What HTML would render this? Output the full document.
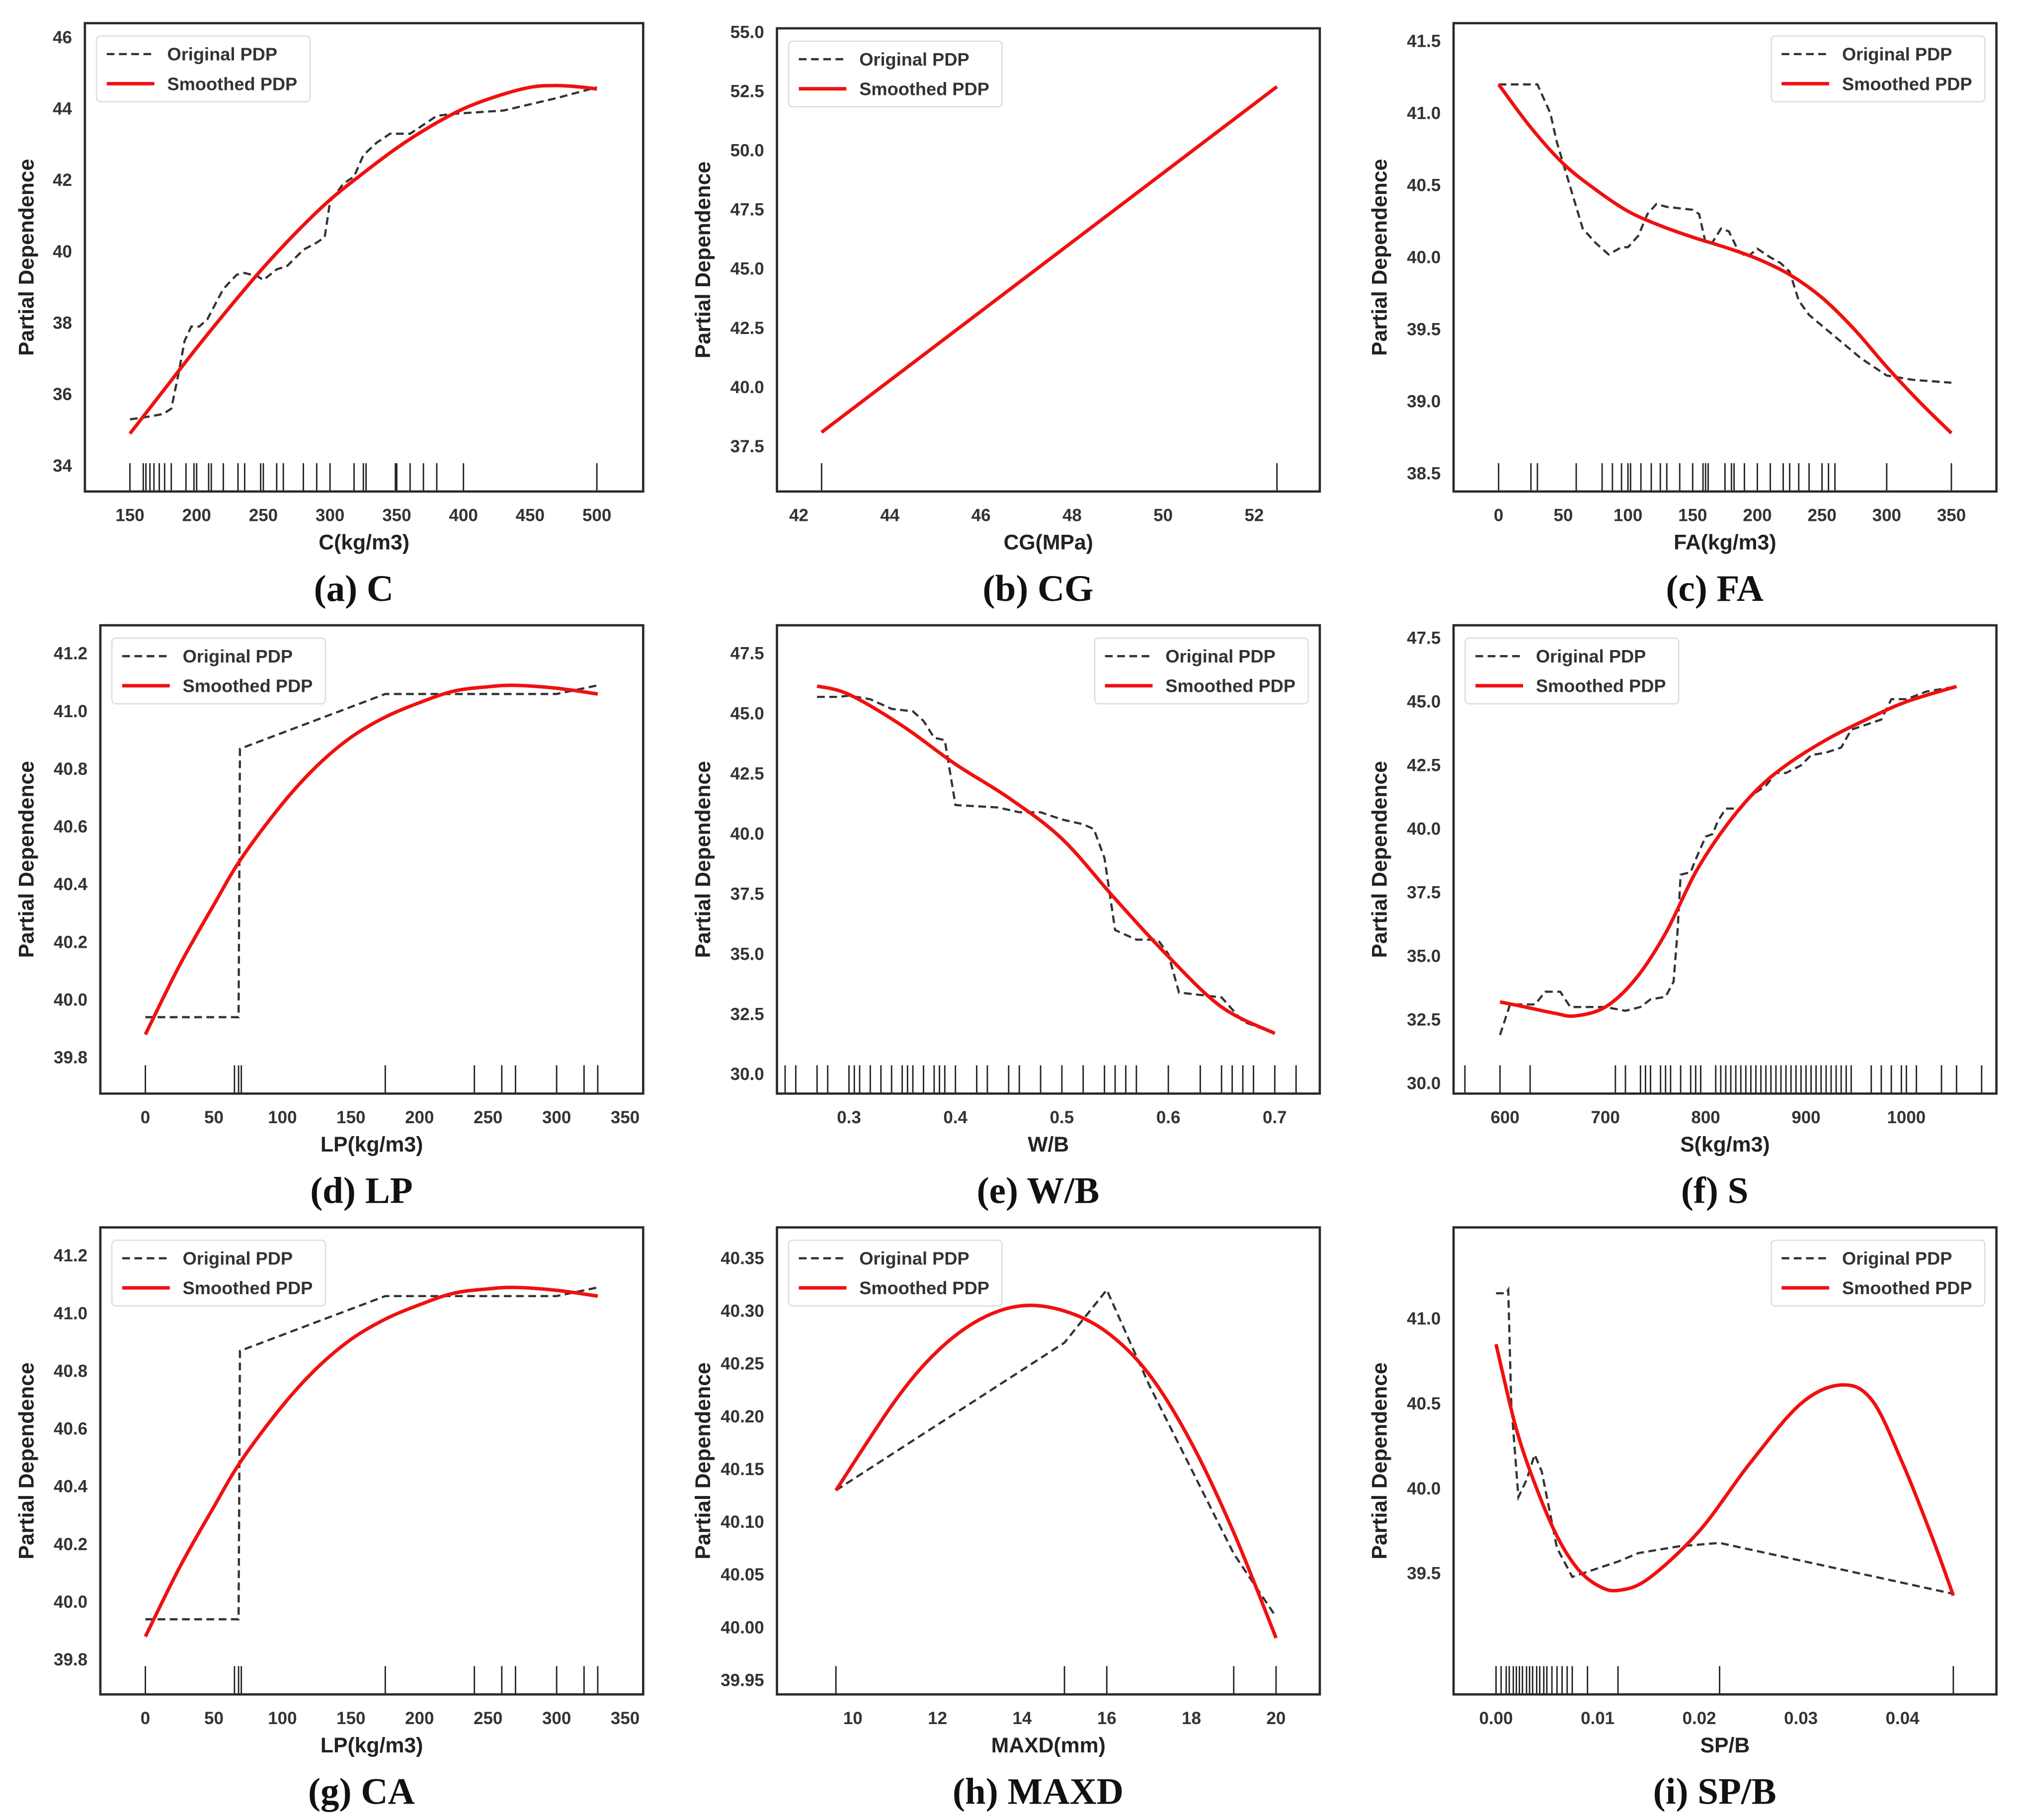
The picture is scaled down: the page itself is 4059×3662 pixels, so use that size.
<!DOCTYPE html>
<html><head><meta charset="utf-8"><style>
html,body{margin:0;padding:0;background:#fff}
svg{display:block}
.tk{font-family:"Liberation Sans",sans-serif;font-size:13.5px;font-weight:bold;fill:#333}
.al{font-family:"Liberation Sans",sans-serif;font-size:16.5px;font-weight:bold;fill:#222}
.cap{font-family:"Liberation Serif",serif;font-size:29px;font-weight:bold;fill:#111}
.lg{font-family:"Liberation Sans",sans-serif;font-size:14px;font-weight:bold;fill:#333}
</style></head><body>
<svg id="fig" xmlns="http://www.w3.org/2000/svg" width="4059" height="3662" viewBox="0 0 1568 1414.6"></svg>
<script>
// ---- data ----
const aOrigX=[150,160,175,181,186,191,196,202,208,215,220,230,236,246,250,260,268,280,290,296,300,310,318,325,335,345,360,380,390,430,470,500];
const aOrigY=[35.3,35.35,35.45,35.6,36.5,37.5,37.9,37.9,38.1,38.6,38.95,39.35,39.4,39.3,39.2,39.5,39.6,40.05,40.25,40.4,41.4,41.9,42.1,42.7,43.05,43.3,43.3,43.8,43.85,43.95,44.3,44.6];
const aSmX=[150,175,200,225,250,275,300,325,350,375,400,425,450,470,490,500];
const aSmY=[34.9,36.1,37.3,38.45,39.55,40.55,41.45,42.2,42.9,43.5,44.0,44.35,44.6,44.65,44.6,44.55];
const aRug=[150,160,162,165,168,172,176,181,192,198,200,209,211,220,231,236,248,250,260,265,280,290,300,318,325,327,349,350,360,370,380,400,500];

const bOrigX=[42.5,52.5];const bOrigY=[38.1,52.7];
const bSmX=[42.5,52.5];const bSmY=[38.1,52.7];
const bRug=[42.5,52.5];

const cOrigX=[0,30,40,45,55,65,75,85,95,100,108,115,122,130,140,150,155,160,165,172,178,185,192,200,210,218,225,232,240,260,280,300,320,350];
const cOrigY=[41.2,41.2,41.0,40.8,40.5,40.2,40.1,40.02,40.07,40.07,40.15,40.3,40.37,40.35,40.34,40.33,40.3,40.1,40.1,40.2,40.18,40.05,40.0,40.06,40.0,39.96,39.9,39.7,39.6,39.45,39.3,39.18,39.15,39.13];
const cSmX=[0,25,50,75,100,125,150,175,200,225,250,275,300,325,350];
const cSmY=[41.2,40.9,40.65,40.47,40.32,40.22,40.14,40.07,39.99,39.88,39.72,39.5,39.24,39.0,38.78];
const cRug=[0,25,30,60,80,88,95,100,102,110,118,125,130,140,150,158,160,162,175,180,182,190,200,210,220,225,232,240,250,255,260,300,350];

const dOrigX=[0,68,68.5,69,175,300,330];
const dOrigY=[39.94,39.94,40.4,40.87,41.06,41.06,41.09];
const dSmX=[0,25,50,70,100,125,150,175,200,225,250,270,300,330];
const dSmY=[39.88,40.12,40.33,40.49,40.68,40.81,40.91,40.98,41.03,41.07,41.085,41.09,41.08,41.06];
const dRug=[0,65,68,70,175,240,260,270,300,320,330];

const eOrigX=[0.27,0.29,0.3,0.32,0.34,0.36,0.37,0.38,0.39,0.4,0.42,0.44,0.46,0.48,0.5,0.52,0.53,0.54,0.55,0.57,0.59,0.6,0.61,0.63,0.65,0.67,0.7];
const eOrigY=[45.7,45.7,45.75,45.6,45.2,45.1,44.7,44.0,43.9,41.2,41.15,41.1,40.9,40.9,40.6,40.4,40.2,39.0,36.0,35.6,35.6,35.0,33.4,33.3,33.2,32.2,31.7];
const eSmX=[0.27,0.3,0.35,0.4,0.45,0.5,0.55,0.6,0.65,0.7];
const eSmY=[46.15,45.8,44.5,42.9,41.5,39.8,37.3,34.9,32.8,31.7];
const eRug=[0.24,0.25,0.27,0.28,0.3,0.305,0.31,0.32,0.33,0.34,0.35,0.355,0.36,0.37,0.38,0.385,0.39,0.4,0.42,0.43,0.45,0.46,0.48,0.5,0.52,0.54,0.55,0.56,0.57,0.6,0.63,0.65,0.66,0.67,0.68,0.7,0.72];

const fOrigX=[595,605,630,640,655,665,700,720,735,745,760,768,772,775,785,790,800,807,812,820,835,845,860,870,880,895,905,920,935,945,960,975,985,1000,1020,1050];
const fOrigY=[31.9,33.1,33.1,33.6,33.6,33.0,33.0,32.85,33.0,33.3,33.4,34.0,36.0,38.2,38.3,38.8,39.7,39.8,40.3,40.8,40.8,41.3,41.7,42.2,42.2,42.5,42.9,43.0,43.2,43.9,44.1,44.3,45.1,45.1,45.4,45.6];
const fSmX=[595,620,650,670,700,730,760,790,820,850,880,920,960,1000,1050];
const fSmY=[33.2,33.0,32.75,32.65,33.0,34.1,35.9,38.3,40.1,41.5,42.5,43.5,44.3,45.0,45.6];
const fRug=[560,595,625,710,720,735,740,745,755,760,765,775,785,790,795,810,815,820,825,830,835,840,845,850,855,860,865,870,875,880,885,890,895,900,905,910,915,920,925,930,935,940,945,965,975,985,995,1000,1010,1035,1050,1075];

const hOrigX=[9.6,15,16,17,19,20];
const hOrigY=[40.13,40.27,40.32,40.23,40.07,40.01];
const hSmX=[9.6,11,12,13,14,15,16,17,18,19,20];
const hSmY=[40.13,40.215,40.262,40.292,40.305,40.3,40.28,40.24,40.175,40.09,39.99];
const hRug=[9.6,15,16,19,20];

const iOrigX=[0,0.001,0.0012,0.0015,0.0022,0.003,0.0038,0.0045,0.006,0.0075,0.01,0.012,0.014,0.018,0.022,0.045];
const iOrigY=[41.15,41.15,41.17,40.5,39.95,40.05,40.2,40.1,39.65,39.48,39.53,39.57,39.62,39.66,39.68,39.38];
const iSmX=[0,0.002,0.004,0.006,0.008,0.01,0.012,0.015,0.02,0.025,0.03,0.034,0.037,0.04,0.043,0.045];
const iSmY=[40.85,40.35,40.0,39.72,39.53,39.43,39.4,39.47,39.75,40.15,40.5,40.61,40.52,40.15,39.7,39.37];
const iRug=[0,0.0005,0.001,0.0013,0.0017,0.002,0.0023,0.0026,0.003,0.0033,0.0036,0.004,0.0043,0.0047,0.005,0.0055,0.006,0.0065,0.007,0.0075,0.009,0.012,0.022,0.045];

const aXT=[150,200,250,300,350,400,450,500], aYT=[34,36,38,40,42,44,46];
const bXT=[42,44,46,48,50,52], bYT=[37.5,40.0,42.5,45.0,47.5,50.0,52.5,55.0];
const cXT=[0,50,100,150,200,250,300,350], cYT=[38.5,39.0,39.5,40.0,40.5,41.0,41.5];
const dXT=[0,50,100,150,200,250,300,350], dYT=[39.8,40.0,40.2,40.4,40.6,40.8,41.0,41.2];
const eXT=[0.3,0.4,0.5,0.6,0.7], eYT=[30.0,32.5,35.0,37.5,40.0,42.5,45.0,47.5];
const fXT=[600,700,800,900,1000], fYT=[30.0,32.5,35.0,37.5,40.0,42.5,45.0,47.5];
const hXT=[10,12,14,16,18,20], hYT=[39.95,40.00,40.05,40.10,40.15,40.20,40.25,40.30,40.35];
const iXT=[0,0.01,0.02,0.03,0.04], iYT=[39.5,40.0,40.5,41.0];

// ---- layout ----
const NS="http://www.w3.org/2000/svg";
const fig=document.getElementById('fig');
function mk(tag,attrs,parent){const e=document.createElementNS(NS,tag);for(const k in attrs)e.setAttribute(k,attrs[k]);(parent||fig).appendChild(e);return e;}
function lin(d0,d1,p0,p1){return v=>p0+(v-d0)*(p1-p0)/(d1-d0);}
function smoothPath(pts){
  if(pts.length<3) return 'M'+pts.map(p=>p[0].toFixed(2)+','+p[1].toFixed(2)).join(' L');
  let d='M'+pts[0][0].toFixed(2)+','+pts[0][1].toFixed(2);
  for(let i=0;i<pts.length-1;i++){
    const p0=pts[Math.max(0,i-1)],p1=pts[i],p2=pts[i+1],p3=pts[Math.min(pts.length-1,i+2)];
    const c1x=p1[0]+(p2[0]-p0[0])/6,c1y=p1[1]+(p2[1]-p0[1])/6;
    const c2x=p2[0]-(p3[0]-p1[0])/6,c2y=p2[1]-(p3[1]-p1[1])/6;
    d+=' C'+c1x.toFixed(2)+','+c1y.toFixed(2)+' '+c2x.toFixed(2)+','+c2y.toFixed(2)+' '+p2[0].toFixed(2)+','+p2[1].toFixed(2);
  }
  return d;
}

const panels=[
 {id:'a',box:[66,18,500,382],sx:lin(150,500,101,464),sy:lin(34,46,362,29),xt:aXT,yt:aYT,xd:0,yd:0,ox:aOrigX,oy:aOrigY,smx:aSmX,smy:aSmY,rug:aRug,xl:'C(kg/m3)',cap:'(a) C',leg:'left',yo:40},
 {id:'b',box:[604,22,1026,382],sx:lin(42,52,621,975),sy:lin(37.5,55,347,25),xt:bXT,yt:bYT,xd:0,yd:1,ox:bOrigX,oy:bOrigY,smx:bSmX,smy:bSmY,rug:bRug,xl:'CG(MPa)',cap:'(b) CG',leg:'left',yo:52},
 {id:'c',box:[1130,18,1552,382],sx:lin(0,350,1165,1517),sy:lin(38.5,41.5,368,32),xt:cXT,yt:cYT,xd:0,yd:1,ox:cOrigX,oy:cOrigY,smx:cSmX,smy:cSmY,rug:cRug,xl:'FA(kg/m3)',cap:'(c) FA',leg:'right',yo:52},
 {id:'d',box:[78,486,500,850],sx:lin(0,350,113,486),sy:lin(39.8,41.2,822,508),xt:dXT,yt:dYT,xd:0,yd:1,ox:dOrigX,oy:dOrigY,smx:dSmX,smy:dSmY,rug:dRug,xl:'LP(kg/m3)',cap:'(d) LP',leg:'left',yo:52},
 {id:'e',box:[604,486,1026,850],sx:lin(0.3,0.7,660,991),sy:lin(30,47.5,835,508),xt:eXT,yt:eYT,xd:1,yd:1,ox:eOrigX,oy:eOrigY,smx:eSmX,smy:eSmY,rug:eRug,xl:'W/B',cap:'(e) W/B',leg:'right',yo:52},
 {id:'f',box:[1130,486,1552,850],sx:lin(600,1000,1170,1482),sy:lin(30,47.5,842,496),xt:fXT,yt:fYT,xd:0,yd:1,ox:fOrigX,oy:fOrigY,smx:fSmX,smy:fSmY,rug:fRug,xl:'S(kg/m3)',cap:'(f) S',leg:'left',yo:52},
 {id:'g',box:[78,954,500,1317],sx:lin(0,350,113,486),sy:lin(39.8,41.2,1290,976),xt:dXT,yt:dYT,xd:0,yd:1,ox:dOrigX,oy:dOrigY,smx:dSmX,smy:dSmY,rug:dRug,xl:'LP(kg/m3)',cap:'(g) CA',leg:'left',yo:52},
 {id:'h',box:[604,954,1026,1317],sx:lin(10,20,663,992),sy:lin(39.95,40.35,1306,978),xt:hXT,yt:hYT,xd:0,yd:2,ox:hOrigX,oy:hOrigY,smx:hSmX,smy:hSmY,rug:hRug,xl:'MAXD(mm)',cap:'(h) MAXD',leg:'left',yo:52},
 {id:'i',box:[1130,954,1552,1317],sx:lin(0,0.04,1163,1479),sy:lin(39.5,41,1223,1025),xt:iXT,yt:iYT,xd:2,yd:1,ox:iOrigX,oy:iOrigY,smx:iSmX,smy:iSmY,rug:iRug,xl:'SP/B',cap:'(i) SP/B',leg:'right',yo:52}
];

panels.forEach(p=>{
  const [x0,y0,x1,y1]=p.box;
  const g=mk('g',{});
  
  
  const cid='clip'+p.id;
  const cp=mk('clipPath',{id:cid},g);mk('rect',{x:x0,y:y0,width:x1-x0,height:y1-y0},cp);
  const rg=mk('g',{'clip-path':'url(#'+cid+')'},g);
  
  
  p.rug.forEach(v=>{const x=p.sx(v);const l=mk('line',{x1:x,x2:x,y1:y1-22,y2:y1,stroke:'#222','stroke-width':1.1},rg);
    
    });
  const op=p.ox.map((v,k)=>p.sx(v).toFixed(2)+','+p.sy(p.oy[k]).toFixed(2)).join(' ');
  const ol=mk('polyline',{points:op,fill:'none',stroke:'#333','stroke-width':1.7,'stroke-dasharray':'6,3.5','clip-path':'url(#'+cid+')'},g);
  
  
  const spts=p.smx.map((v,k)=>[p.sx(v),p.sy(p.smy[k])]);
  const sl=mk('path',{d:smoothPath(spts),fill:'none',stroke:'#f01010','stroke-width':2.7,'stroke-linejoin':'round','clip-path':'url(#'+cid+')'},g);
  
  
  const fr=mk('rect',{x:x0,y:y0,width:x1-x0,height:y1-y0,fill:'none',stroke:'#2a2a2a','stroke-width':1.8},g);
  
  
  p.xt.forEach(v=>{const t=mk('text',{x:p.sx(v),y:y1+23,'text-anchor':'middle',class:'tk'},g);t.textContent=v.toFixed(p.xd);
    
    });
  p.yt.forEach(v=>{const t=mk('text',{x:x0-10,y:p.sy(v)+4.5,'text-anchor':'end',class:'tk'},g);t.textContent=v.toFixed(p.yd);
    
    });
  const xl=mk('text',{x:(x0+x1)/2,y:y1+45,'text-anchor':'middle',class:'al'},g);xl.textContent=p.xl;
  
  
  const yc=(y0+y1)/2;const yx=x0-p.yo;
  const yl=mk('text',{x:yx,y:yc,'text-anchor':'middle',class:'al',transform:'rotate(-90 '+yx+' '+yc+')'},g);yl.textContent='Partial Dependence';
  
  
  const cp2=mk('text',{x:(x0+x1)/2-8,y:y1+85,'text-anchor':'middle',class:'cap'},g);cp2.textContent=p.cap;
  
  
  const lx=p.leg==='left'?x0+9:x1-175, ly=y0+10;
  const lg=mk('g',{},g);
  
  
  mk('rect',{x:lx,y:ly,width:166,height:51,rx:3,fill:'#fff','fill-opacity':0.9,stroke:'#ddd','stroke-width':1},lg);
  mk('line',{x1:lx+8,x2:lx+45,y1:ly+14,y2:ly+14,stroke:'#333','stroke-width':1.7,'stroke-dasharray':'6,3.5'},lg);
  mk('line',{x1:lx+8,x2:lx+45,y1:ly+37,y2:ly+37,stroke:'#f01010','stroke-width':2.7},lg);
  const t1=mk('text',{x:lx+55,y:ly+19,class:'lg'},lg);t1.textContent='Original PDP';
  
  
  const t2=mk('text',{x:lx+55,y:ly+42,class:'lg'},lg);t2.textContent='Smoothed PDP';
  
  
});
</script>
</body></html>
